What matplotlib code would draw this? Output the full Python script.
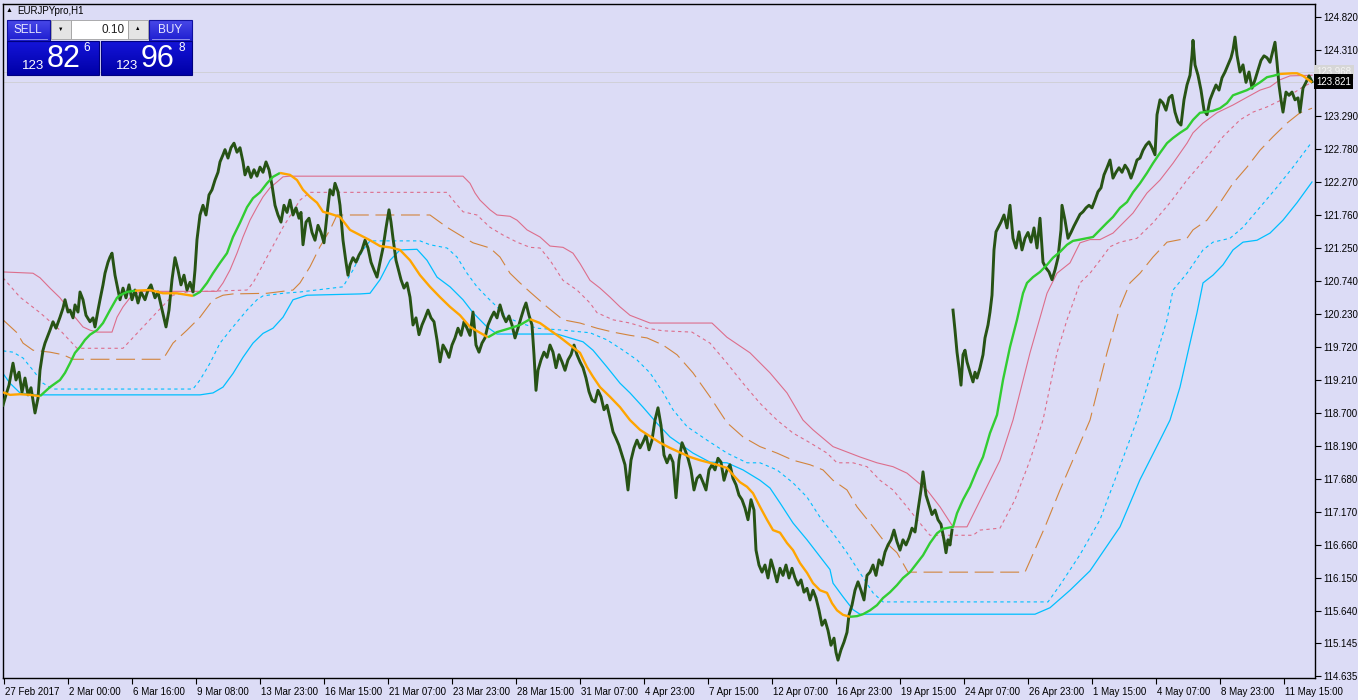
import numpy as np
import matplotlib
matplotlib.use("Agg")
import matplotlib.pyplot as plt
import matplotlib.transforms as mtransforms
from matplotlib.patches import Rectangle

plt.rcParams["font.family"] = ["Liberation Sans", "DejaVu Sans"]

# ---- data: x = bar number (H1 bars), y = EURJPY price ----
price_x_a = [3, 6, 9, 13, 16, 19, 22, 25, 28, 31, 35, 38, 40, 43, 45, 48, 50, 53, 56, 60, 63, 65, 68, 70, 73, 75, 78, 80,
             83, 86, 90, 93, 95, 98, 100, 103, 105, 108, 110, 112, 115, 118, 120, 123, 126, 129, 132, 135, 138, 141, 145,
             148, 151, 155, 158, 161, 164, 166, 169, 172, 175, 178, 181, 184, 187, 190, 193, 195, 197, 200, 203, 206, 209,
             212, 215, 218, 220, 223, 225, 228, 231, 234, 237, 240, 243, 245, 248, 251, 254, 257, 260, 263, 266, 269, 272,
             275, 278, 281, 284, 287, 290, 293, 296, 299, 301, 303, 306, 309, 312, 315, 318, 321, 324, 327, 330, 333, 335,
             338, 340, 343, 346, 348, 350, 353, 356, 359, 362, 365, 368, 371, 374, 377, 380, 383, 386, 389, 391, 393, 396,
             398, 401, 404, 407, 410, 413, 416, 419, 422, 425, 428, 431, 434, 437, 440, 443, 446, 449, 452, 455, 458, 461,
             464, 467, 470, 473, 476, 479, 482, 485, 488, 491, 494, 497, 500, 503, 506, 509, 512, 515, 518, 521, 524, 526,
             529, 532, 534, 536, 538, 541, 544, 547, 550, 553, 556, 559, 562, 565, 568, 571, 574, 577, 580, 583, 586, 589,
             592, 595, 598, 601, 604, 607, 610, 613, 616, 619, 622, 625, 628, 631, 634, 637, 640, 643, 646, 649, 652, 655,
             658, 661, 664, 667, 670, 673, 676, 679, 682, 685, 688, 691, 694, 697, 700, 703, 706, 709, 712, 715, 718, 721,
             724, 727, 730, 733, 736, 739, 742, 745, 748, 751, 754, 756, 759, 762, 765, 768, 771, 774, 777, 780, 783, 786,
             789, 792, 795, 798, 801, 804, 807, 810, 813, 816, 819, 822, 825, 828, 831, 834, 836, 838, 841, 844, 847, 849,
             852, 855, 858, 861, 864, 867, 870, 873, 876, 879, 882, 885, 888, 891, 894, 897, 900, 903, 906, 909, 912, 915,
             918, 921, 923, 926, 929, 932, 935, 938, 941, 944, 946, 948, 950, 952]
price_a = [118.82, 118.98, 119.13, 119.47, 119.21, 119.33, 119.02, 119.24, 118.98, 119.09, 118.70, 118.93, 119.36, 119.67,
           119.78, 119.90, 119.98, 120.11, 120.01, 120.18, 120.32, 120.45, 120.26, 120.29, 120.17, 120.37, 120.26, 120.57,
           120.45, 120.21, 120.11, 120.17, 120.03, 120.29, 120.45, 120.68, 120.86, 121.03, 121.11, 121.17, 120.83, 120.60,
           120.45, 120.63, 120.48, 120.68, 120.45, 120.60, 120.40, 120.57, 120.45, 120.60, 120.68, 120.48, 120.57, 120.37,
           120.17, 120.03, 120.29, 120.76, 121.10, 120.91, 120.68, 120.83, 120.60, 120.72, 120.57, 120.91, 121.38, 121.76,
           121.91, 121.76, 122.07, 122.15, 122.30, 122.42, 122.58, 122.69, 122.77, 122.64, 122.80, 122.87, 122.73, 122.80,
           122.58, 122.38, 122.50, 122.34, 122.46, 122.36, 122.50, 122.42, 122.58, 122.46, 122.22, 121.91, 121.76, 121.65,
           121.91, 121.80, 121.99, 121.76, 121.87, 121.71, 121.80, 121.30, 121.65, 121.71, 121.49, 121.37, 121.60, 121.49,
           121.33, 121.76, 122.15, 122.07, 122.25, 122.12, 121.91, 121.37, 121.03, 120.83, 120.99, 121.10, 121.03, 121.14,
           121.22, 121.37, 121.25, 121.03, 120.91, 120.80, 121.03, 121.25, 121.56, 121.84, 121.65, 121.40, 121.06, 120.94,
           120.76, 120.63, 120.71, 120.49, 120.06, 120.17, 119.91, 120.06, 120.17, 120.29, 120.17, 120.11, 119.83, 119.49,
           119.75, 119.67, 119.56, 119.75, 119.86, 120.01, 119.90, 120.11, 120.01, 119.90, 120.26, 119.75, 119.64, 119.78,
           119.86, 120.06, 120.17, 120.26, 120.17, 120.37, 120.21, 120.11, 120.20, 120.06, 119.86, 120.01, 120.17, 120.32,
           120.40, 120.21, 120.06, 119.60, 119.05, 119.36, 119.52, 119.64, 119.56, 119.75, 119.64, 119.40, 119.60, 119.49,
           119.36, 119.52, 119.60, 119.75, 119.60, 119.49, 119.40, 119.24, 119.03, 118.90, 118.87, 119.05, 118.95, 118.75,
           118.82, 118.62, 118.41, 118.31, 118.20, 118.05, 117.90, 117.51, 117.97, 118.16, 118.28, 118.16, 118.25, 118.36,
           118.13, 118.28, 118.59, 118.78, 118.51, 118.05, 117.93, 118.05, 117.94, 117.39, 117.97, 118.24, 118.13, 118.00,
           117.82, 117.51, 117.69, 117.74, 117.63, 117.51, 117.82, 117.90, 117.82, 118.00, 117.94, 117.66, 117.82, 117.90,
           117.69, 117.59, 117.43, 117.36, 117.23, 117.05, 117.36, 117.20, 116.58, 116.35, 116.24, 116.35, 116.15, 116.43,
           116.27, 116.09, 116.30, 116.19, 116.35, 116.15, 116.30, 116.15, 116.04, 116.12, 115.93, 115.99, 115.81, 115.96,
           115.84, 115.65, 115.42, 115.50, 115.34, 115.11, 115.22, 115.00, 114.88, 115.04, 115.16, 115.31, 115.58, 115.73,
           115.96, 116.09, 115.96, 115.81, 116.19, 116.24, 116.35, 116.19, 116.43, 116.35, 116.55, 116.66, 116.74, 116.89,
           116.71, 116.58, 116.74, 116.66, 116.77, 116.92, 116.86, 117.20, 117.51, 117.79, 117.43, 117.28, 117.13, 117.20,
           117.05, 116.98, 116.74, 116.54, 116.74, 116.66, 116.89]

price_x_b = [953, 955, 957, 959, 961, 963, 965, 967, 970, 973, 975, 977, 980, 983, 985, 988, 990, 992, 994, 996, 998, 1001,
             1004, 1007, 1010, 1013, 1016, 1019, 1022, 1025, 1028, 1031, 1034, 1037, 1040, 1043, 1046, 1049, 1052, 1055,
             1058, 1061, 1062, 1065, 1068, 1071, 1074, 1077, 1080, 1083, 1086, 1089, 1092, 1095, 1098, 1101, 1104, 1107,
             1110, 1113, 1116, 1119, 1122, 1125, 1128, 1131, 1134, 1137, 1140, 1143, 1146, 1149, 1152, 1155, 1157, 1160,
             1163, 1166, 1169, 1172, 1175, 1178, 1181, 1184, 1187, 1190, 1192, 1193, 1195, 1198, 1201, 1204, 1207, 1210,
             1213, 1216, 1219, 1222, 1225, 1228, 1231, 1233, 1235, 1237, 1240, 1243, 1246, 1249, 1252, 1255, 1258, 1261,
             1264, 1267, 1270, 1273, 1275, 1277, 1279, 1281, 1283, 1286, 1289, 1292, 1295, 1298, 1300, 1303, 1306, 1309,
             1312]
price_b = [120.29, 119.98, 119.64, 119.40, 119.13, 119.60, 119.67, 119.49, 119.33, 119.18, 119.33, 119.24, 119.40, 119.60,
           119.86, 120.06, 120.26, 120.52, 121.22, 121.50, 121.56, 121.65, 121.76, 121.56, 121.91, 121.40, 121.25, 121.50,
           121.22, 121.40, 121.49, 121.34, 121.56, 121.25, 121.71, 121.03, 120.94, 120.88, 120.76, 120.91, 121.10, 121.53,
           121.91, 121.68, 121.40, 121.49, 121.59, 121.68, 121.77, 121.81, 121.87, 121.91, 121.87, 121.99, 122.12, 122.18,
           122.38, 122.49, 122.61, 122.33, 122.42, 122.49, 122.42, 122.53, 122.46, 122.33, 122.46, 122.61, 122.64, 122.76,
           122.84, 122.89, 122.80, 122.69, 123.31, 123.54, 123.49, 123.38, 123.57, 123.61, 123.35, 123.20, 123.15, 123.54,
           123.77, 123.92, 124.23, 124.46, 124.08, 123.92, 123.69, 123.38, 123.31, 123.54, 123.66, 123.77, 123.69, 123.88,
           123.97, 124.08, 124.19, 124.31, 124.51, 124.23, 123.97, 124.08, 123.81, 123.97, 123.72, 123.85, 124.00, 124.15,
           124.22, 124.19, 124.12, 124.31, 124.43, 124.12, 123.77, 123.54, 123.35, 123.66, 123.61, 123.66, 123.54, 123.57,
           123.35, 123.72, 123.81, 123.91, 123.821]

# trend line (green while rising, orange while falling)
trend_x = [3, 10, 20, 30, 40, 50, 60, 65, 70, 75, 80, 85, 90, 97, 103, 110, 117, 120, 127, 135, 150, 163, 177, 193, 200,
           207, 213, 220, 227, 233, 240, 247, 253, 260, 267, 273, 280, 290, 297, 303, 310, 317, 323, 330, 340, 350, 360,
           370, 380, 390, 400, 410, 420, 430, 440, 450, 460, 470, 480, 488, 497, 510, 520, 530, 540, 550, 560, 570, 580,
           587, 593, 600, 610, 620, 630, 640, 650, 660, 670, 680, 690, 700, 717, 727, 735, 740, 747, 753, 760, 767, 773,
           780, 787, 793, 800, 807, 813, 820, 827, 832, 837, 843, 850, 857, 863, 870, 877, 883, 890, 897, 903, 910, 917,
           923, 930, 937, 943, 953, 957, 963, 970, 977, 983, 990, 997, 1003, 1010, 1017, 1023, 1027, 1033, 1040, 1047,
           1053, 1060, 1067, 1073, 1080, 1093, 1100, 1107, 1113, 1120, 1127, 1133, 1140, 1147, 1153, 1160, 1167, 1173,
           1180, 1187, 1193, 1200, 1213, 1220, 1227, 1233, 1240, 1247, 1253, 1260, 1267, 1273, 1280, 1292, 1297, 1303, 1312]
trend_y = [119.02, 118.98, 118.99, 118.98, 118.96, 119.10, 119.21, 119.32, 119.47, 119.63, 119.72, 119.83, 119.91, 119.98,
           120.09, 120.29, 120.48, 120.52, 120.57, 120.59, 120.60, 120.55, 120.55, 120.51, 120.57, 120.71, 120.86, 121.02,
           121.17, 121.42, 121.64, 121.88, 122.02, 122.11, 122.25, 122.35, 122.41, 122.38, 122.30, 122.15, 122.04, 121.95,
           121.81, 121.78, 121.73, 121.53, 121.45, 121.37, 121.28, 121.26, 121.22, 121.06, 120.83, 120.65, 120.49, 120.34,
           120.21, 120.03, 119.94, 119.87, 119.95, 120.01, 120.06, 120.15, 120.09, 119.98, 119.87, 119.75, 119.63, 119.41,
           119.26, 119.10, 118.95, 118.79, 118.59, 118.44, 118.34, 118.24, 118.16, 118.09, 118.02, 117.97, 117.90, 117.85,
           117.71, 117.63, 117.56, 117.46, 117.25, 117.05, 116.89, 116.85, 116.69, 116.58, 116.38, 116.23, 116.07, 115.96,
           115.92, 115.76, 115.65, 115.58, 115.55, 115.56, 115.59, 115.65, 115.73, 115.84, 115.93, 116.04, 116.15, 116.24,
           116.38, 116.50, 116.69, 116.84, 116.91, 116.94, 117.15, 117.36, 117.56, 117.82, 118.02, 118.39, 118.67, 119.21,
           119.72, 120.14, 120.55, 120.71, 120.80, 120.88, 120.99, 121.10, 121.19, 121.30, 121.36, 121.38, 121.42, 121.53,
           121.64, 121.73, 121.87, 121.96, 122.11, 122.25, 122.41, 122.56, 122.72, 122.87, 122.95, 123.03, 123.10, 123.23,
           123.34, 123.37, 123.41, 123.49, 123.61, 123.65, 123.69, 123.74, 123.81, 123.89, 123.91, 123.94, 123.95, 123.95,
           123.91, 123.81]
trend_down = [(3, 40), (135, 193), (280, 488), (530, 850), (1280, 1312)]

pink_x = [3, 33, 40, 50, 60, 67, 75, 83, 90, 97, 112, 117, 123, 130, 137, 143, 217, 223, 230, 237, 243, 250, 257, 263, 270,
          277, 283, 290, 463, 470, 475, 480, 490, 497, 510, 517, 527, 540, 550, 563, 573, 580, 590, 600, 610, 620, 630, 640,
          650, 712, 727, 750, 770, 787, 803, 813, 833, 860, 877, 893, 907, 927, 940, 953, 967, 1000, 1013, 1030, 1047, 1057,
          1070, 1080, 1090, 1100, 1113, 1133, 1147, 1160, 1173, 1187, 1193, 1203, 1217, 1233, 1247, 1260, 1270, 1280, 1290,
          1312]
pink_y = [120.88, 120.86, 120.79, 120.63, 120.48, 120.34, 120.18, 120.03, 119.98, 119.95, 119.95, 120.18, 120.34, 120.48,
          120.55, 120.58, 120.58, 120.71, 120.91, 121.17, 121.42, 121.68, 121.88, 122.04, 122.18, 122.27, 122.35, 122.36,
          122.36, 122.25, 122.10, 121.99, 121.84, 121.76, 121.74, 121.68, 121.53, 121.42, 121.28, 121.26, 121.17, 121.01,
          120.75, 120.63, 120.49, 120.34, 120.21, 120.15, 120.09, 120.09, 119.87, 119.63, 119.32, 119.01, 118.59, 118.44,
          118.18, 118.02, 117.93, 117.87, 117.77, 117.51, 117.25, 116.94, 116.94, 117.97, 118.59, 119.63, 120.55, 120.86,
          121.02, 121.33, 121.38, 121.38, 121.48, 121.79, 122.10, 122.30, 122.56, 122.87, 123.03, 123.18, 123.34, 123.46,
          123.58, 123.69, 123.74, 123.85, 123.91, 123.92]

pink_dot_x = [3, 20, 40, 60, 77, 123, 140, 157, 173, 187, 247, 253, 267, 283, 300, 310, 447, 453, 463, 477, 490, 503, 517,
              530, 540, 550, 563, 577, 590, 597, 613, 630, 647, 663, 692, 710, 727, 743, 760, 777, 793, 810, 827, 837, 853,
              867, 880, 893, 907, 923, 930, 973, 980, 1000, 1015, 1030, 1043, 1057, 1067, 1073, 1080, 1090, 1100, 1110,
              1120, 1137, 1153, 1170, 1187, 1207, 1223, 1240, 1253, 1267, 1287, 1303, 1312]
pink_dot_y = [120.79, 120.49, 120.25, 119.98, 119.70, 119.70, 119.98, 120.26, 120.52, 120.57, 120.60, 120.71, 121.11,
              121.57, 121.99, 122.11, 122.11, 121.99, 121.81, 121.76, 121.57, 121.45, 121.34, 121.26, 121.25, 121.06,
              120.75, 120.60, 120.40, 120.25, 120.14, 120.09, 120.01, 119.97, 119.95, 119.78, 119.47, 119.16, 118.85,
              118.59, 118.39, 118.24, 118.08, 117.93, 117.93, 117.87, 117.66, 117.51, 117.25, 116.94, 116.81, 116.81,
              116.89, 116.92, 117.36, 117.97, 118.59, 119.63, 120.14, 120.40, 120.71, 120.86, 121.06, 121.27, 121.34,
              121.40, 121.64, 121.95, 122.30, 122.66, 122.97, 123.23, 123.35, 123.43, 123.58, 123.74, 123.81]

brown_x = [3, 17, 23, 33, 50, 63, 73, 163, 173, 187, 200, 213, 223, 233, 267, 293, 300, 310, 320, 330, 337, 430, 447, 463,
           473, 490, 500, 510, 520, 530, 547, 563, 580, 597, 613, 630, 647, 663, 677, 693, 710, 727, 743, 760, 777, 793,
           810, 823, 833, 847, 857, 870, 883, 897, 908, 1025, 1045, 1060, 1075, 1090, 1107, 1120, 1130, 1140, 1153, 1167,
           1187, 1193, 1207, 1220, 1233, 1247, 1260, 1273, 1287, 1300, 1312]
brown_y = [120.14, 119.94, 119.78, 119.67, 119.64, 119.60, 119.53, 119.53, 119.78, 119.98, 120.18, 120.45, 120.52, 120.54,
           120.55, 120.60, 120.71, 120.96, 121.27, 121.53, 121.76, 121.76, 121.57, 121.42, 121.33, 121.25, 121.11, 120.86,
           120.71, 120.57, 120.34, 120.14, 120.09, 120.01, 119.95, 119.90, 119.86, 119.75, 119.60, 119.32, 118.95, 118.55,
           118.33, 118.18, 118.08, 117.97, 117.90, 117.82, 117.66, 117.51, 117.25, 117.00, 116.74, 116.54, 116.24, 116.24,
           116.94, 117.51, 118.05, 118.59, 119.63, 120.34, 120.71, 120.86, 121.11, 121.34, 121.40, 121.53, 121.68, 121.95,
           122.25, 122.50, 122.76, 122.97, 123.18, 123.34, 123.41]

cyan_dot_x = [3, 13, 23, 33, 43, 53, 193, 200, 210, 220, 233, 247, 257, 263, 283, 300, 343, 353, 363, 370, 420, 430, 447,
              457, 467, 477, 487, 497, 507, 520, 537, 563, 590, 607, 623, 637, 650, 663, 673, 687, 707, 727, 747, 760, 777,
              793, 807, 820, 833, 847, 860, 873, 883, 1048, 1060, 1080, 1100, 1115, 1128, 1137, 1153, 1167, 1173, 1187,
              1203, 1213, 1230, 1243, 1260, 1277, 1293, 1312]
cyan_dot_y = [119.66, 119.64, 119.55, 119.36, 119.16, 119.07, 119.07, 119.21, 119.47, 119.78, 120.03, 120.29, 120.45,
              120.51, 120.55, 120.57, 120.65, 120.91, 121.22, 121.36, 121.36, 121.30, 121.25, 121.11, 120.86, 120.65,
              120.49, 120.34, 120.18, 120.09, 120.01, 119.98, 119.94, 119.83, 119.67, 119.52, 119.32, 119.02, 118.75,
              118.49, 118.28, 118.08, 117.93, 117.93, 117.82, 117.62, 117.40, 117.09, 116.84, 116.54, 116.23, 115.92,
              115.78, 115.78, 116.04, 116.51, 117.05, 117.67, 118.21, 118.59, 119.41, 120.14, 120.60, 120.86, 121.22,
              121.34, 121.40, 121.57, 121.88, 122.19, 122.50, 122.89]

cyan_x = [3, 10, 20, 37, 200, 213, 223, 233, 243, 253, 263, 273, 283, 293, 307, 360, 370, 380, 390, 400, 417, 427, 437, 450,
          463, 473, 487, 497, 557, 570, 583, 593, 607, 620, 630, 643, 657, 670, 693, 710, 727, 743, 760, 770, 780, 793, 807,
          820, 830, 833, 843, 853, 860, 1035, 1050, 1070, 1090, 1105, 1120, 1140, 1160, 1170, 1180, 1190, 1197, 1203, 1213,
          1223, 1233, 1243, 1257, 1270, 1283, 1297, 1312]
cyan_y = [119.31, 119.16, 119.01, 118.98, 118.98, 119.01, 119.10, 119.31, 119.56, 119.78, 119.93, 120.01, 120.18, 120.45,
          120.52, 120.54, 120.55, 120.76, 121.06, 121.22, 121.23, 121.06, 120.80, 120.65, 120.45, 120.25, 120.03, 119.92,
          119.92, 119.86, 119.80, 119.67, 119.41, 119.16, 119.01, 118.79, 118.54, 118.33, 118.08, 117.94, 117.93, 117.82,
          117.66, 117.54, 117.31, 117.00, 116.74, 116.48, 116.28, 116.07, 115.86, 115.66, 115.59, 115.59, 115.69, 115.96,
          116.26, 116.60, 116.94, 117.67, 118.28, 118.59, 119.10, 119.78, 120.25, 120.71, 120.83, 120.99, 121.22, 121.34,
          121.37, 121.48, 121.68, 121.95, 122.27]

bid = 123.821
ask = 123.968

price_ticks = [124.820, 124.310, 123.290, 122.780, 122.270, 121.760, 121.250, 120.740, 120.230, 119.720, 119.210,
               118.700, 118.190, 117.680, 117.170, 116.660, 116.150, 115.640, 115.145, 114.635]
time_tick_bars = [4, 68, 132, 196, 260, 324, 388, 452, 516, 580, 644, 708, 772, 836, 900, 964, 1028, 1092, 1156, 1220, 1284]
time_tick_labels = ["27 Feb 2017", "2 Mar 00:00", "6 Mar 16:00", "9 Mar 08:00", "13 Mar 23:00", "16 Mar 15:00",
                    "21 Mar 07:00", "23 Mar 23:00", "28 Mar 15:00", "31 Mar 07:00", "4 Apr 23:00", "7 Apr 15:00",
                    "12 Apr 07:00", "16 Apr 23:00", "19 Apr 15:00", "24 Apr 07:00", "26 Apr 23:00", "1 May 15:00",
                    "4 May 07:00", "8 May 23:00", "11 May 15:00"]

BG = "#DCDCF6"
PINK = "#DC6E8C"
BROWN = "#D2843C"
CYAN = "#00BFFF"
FS = 7

W, H = 1358, 700
fig = plt.figure(figsize=(W / 100, H / 100), dpi=100)
fig.patch.set_facecolor(BG)
ax = fig.add_axes([3 / W, 22 / H, 1312 / W, 674 / H])
ax.set_facecolor(BG)
ax.set_xlim(3, 1315)
ax.set_ylim(114.604, 125.021)

# bid / ask lines
ax.axhline(ask, color="#D0D0D8", lw=0.7, zorder=1)
ax.axhline(bid, color="#D0D0D8", lw=0.7, zorder=1)

# envelope lines
ax.plot(pink_x, pink_y, color=PINK, lw=0.8, zorder=2)
ax.plot(pink_dot_x, pink_dot_y, color=PINK, lw=0.8, dashes=(3, 3), zorder=2)
ax.plot(brown_x, brown_y, color=BROWN, lw=0.8, dashes=(17, 6), zorder=2)
ax.plot(cyan_dot_x, cyan_dot_y, color=CYAN, lw=0.8, dashes=(3, 3), zorder=2)
ax.plot(cyan_x, cyan_y, color=CYAN, lw=0.9, zorder=2)

# price
ax.plot(price_x_a, price_a, color="#275315", lw=2.1, zorder=3)
ax.plot(price_x_b, price_b, color="#275315", lw=2.1, zorder=3)

# trend line, colored by direction
tx = np.array(trend_x)
ty = np.array(trend_y)
mid = (tx[:-1] + tx[1:]) / 2
down = np.zeros(len(mid), dtype=bool)
for a, b in trend_down:
    down |= (mid >= a) & (mid <= b)
start = 0
for i in range(1, len(down) + 1):
    if i == len(down) or down[i] != down[start]:
        ax.plot(tx[start:i + 1], ty[start:i + 1], color="#FFA500" if down[start] else "#32CD32",
                lw=1.7, solid_capstyle="butt", zorder=4)
        start = i

# axes styling
for side in ["left", "right", "top", "bottom"]:
    ax.spines[side].set_color("black")
    ax.spines[side].set_linewidth(1)
ax.yaxis.tick_right()
ax.set_yticks(price_ticks)
ax.set_yticklabels([f"{v:.3f}" for v in price_ticks])
ax.tick_params(axis="y", direction="out", length=4, width=0.8, pad=2, labelsize=FS, colors="black")
ax.set_xticks(time_tick_bars)
ax.set_xticklabels(time_tick_labels)
ax.tick_params(axis="x", direction="out", length=4, width=0.8, pad=2.5, labelsize=FS, colors="black")
offset = mtransforms.ScaledTranslation(1.0 / 72, 0, fig.dpi_scale_trans)
for lbl in ax.get_xticklabels():
    lbl.set_horizontalalignment("left")
    lbl.set_transform(lbl.get_transform() + offset)

# price labels on the right scale
yt = ax.get_yaxis_transform()
ax.text(1.001, ask, f"{ask:.3f}", transform=yt, ha="left", va="center", fontsize=FS, color="#F4F4F4",
        bbox=dict(facecolor="#D6D6D6", edgecolor="none", pad=1.6), clip_on=False, zorder=5)
ax.text(1.001, bid, f"{bid:.3f}", transform=yt, ha="left", va="center", fontsize=FS, color="white",
        bbox=dict(facecolor="black", edgecolor="none", pad=1.6), clip_on=False, zorder=6)

# ---- one-click trading panel (pixel overlay) ----
ov = fig.add_axes([0, 0, 1, 1], facecolor="none")
ov.set_xlim(0, W)
ov.set_ylim(H, 0)
ov.axis("off")

ov.text(6, 11, "\u25B2", fontsize=5, color="black", va="center", ha="left")
ov.text(17, 11, "EURJPYpro,H1", fontsize=7, color="black", va="center", ha="left")

def grad_box(x0, y0, w, h, top, bottom, edge):
    img = np.linspace(0, 1, 20).reshape(-1, 1)
    cmap = matplotlib.colors.LinearSegmentedColormap.from_list("g", [top, bottom])
    ov.imshow(img, cmap=cmap, extent=[x0, x0 + w, y0 + h, y0], aspect="auto", zorder=5)
    ov.add_patch(Rectangle((x0, y0), w, h, fill=False, edgecolor=edge, lw=0.8, zorder=6))

# sell / buy buttons
grad_box(7, 20, 43, 21, "#4848E8", "#1E1ED0", "#1010A0")
grad_box(149, 20, 43, 21, "#4848E8", "#1E1ED0", "#1010A0")
ov.text(28, 30, "SELL", fontsize=8.5, color="#E8E8FF", ha="center", va="center", zorder=7)
ov.text(170, 30, "BUY", fontsize=8.5, color="#E8E8FF", ha="center", va="center", zorder=7)
ov.plot([10, 47], [39, 39], color="#A0A0F0", lw=0.6, zorder=7)
ov.plot([152, 189], [39, 39], color="#A0A0F0", lw=0.6, zorder=7)

# lot field
ov.add_patch(Rectangle((51, 20), 20, 19, facecolor="#E4E4E4", edgecolor="#A0A0A0", lw=0.6, zorder=5))
ov.add_patch(Rectangle((71, 20), 57, 19, facecolor="white", edgecolor="#A0A0A0", lw=0.6, zorder=5))
ov.add_patch(Rectangle((128, 20), 20, 19, facecolor="#E4E4E4", edgecolor="#A0A0A0", lw=0.6, zorder=5))
ov.text(61, 29, "\u25BC", fontsize=4, color="black", ha="center", va="center", zorder=7)
ov.text(138, 29, "\u25B2", fontsize=4, color="black", ha="center", va="center", zorder=7)
ov.text(125, 30, "0.10", fontsize=8.5, color="#202020", ha="right", va="center", zorder=7)

# quote boxes
grad_box(7, 41, 92, 34, "#1414D8", "#0000A8", "#000080")
grad_box(101, 41, 91, 34, "#1414D8", "#0000A8", "#000080")
ov.text(44, 66, "123", fontsize=9.5, color="white", ha="right", va="center", zorder=7)
ov.text(64, 59, "82", fontsize=22, color="white", ha="center", va="center", zorder=7)
ov.text(87, 48, "6", fontsize=8.5, color="white", ha="center", va="center", zorder=7)
ov.text(138, 66, "123", fontsize=9.5, color="white", ha="right", va="center", zorder=7)
ov.text(158, 59, "96", fontsize=22, color="white", ha="center", va="center", zorder=7)
ov.text(182, 48, "8", fontsize=8.5, color="white", ha="center", va="center", zorder=7)

fig.savefig("out.png", dpi=100, facecolor=BG)
